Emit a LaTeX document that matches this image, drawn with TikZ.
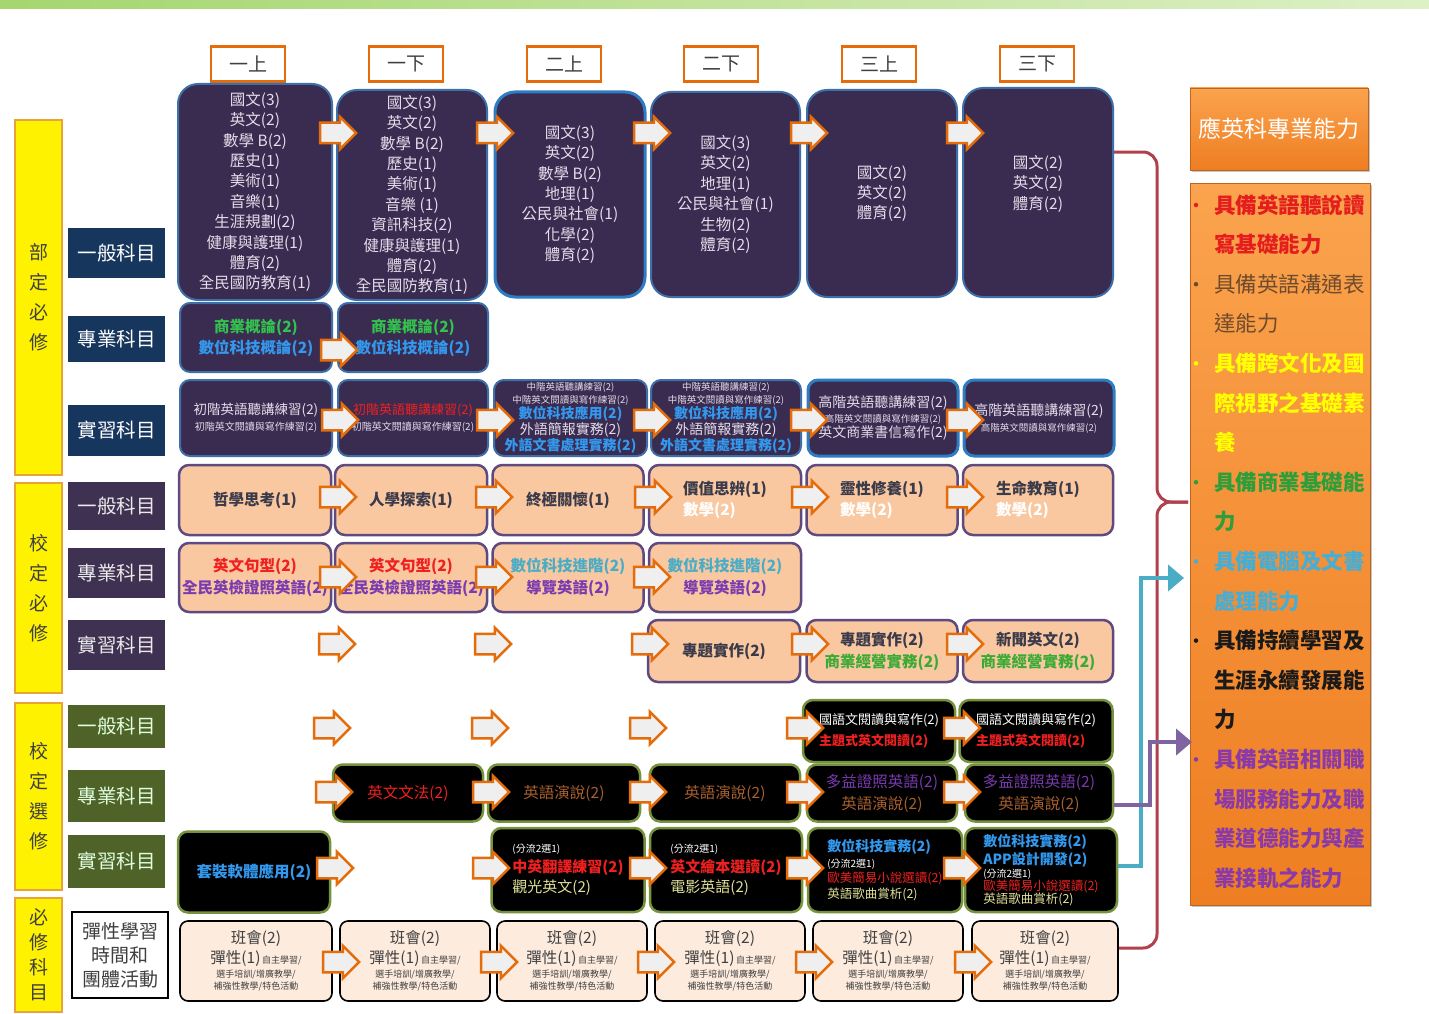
\documentclass[tikz,border=0pt]{standalone}
\usepackage{fontspec}
\setmainfont{Noto Sans CJK TC}
\usetikzlibrary{shapes.arrows,arrows.meta,shadows,calc}
\definecolor{cOr}{HTML}{E46C0A}
\definecolor{cArr}{HTML}{EFEFEF}
\definecolor{cPur}{HTML}{3A2B50}
\definecolor{cBlu}{HTML}{3D6FA8}
\definecolor{cBlu2}{HTML}{2E7DC4}
\definecolor{cLt}{HTML}{E2DDEA}
\definecolor{cPeach}{HTML}{F9C8A0}
\definecolor{cPeB}{HTML}{5E4A80}
\definecolor{cDk}{HTML}{3A3A4A}
\definecolor{cGrn}{HTML}{76923C}
\definecolor{cLpe}{HTML}{FDEBDD}
\definecolor{cGray}{HTML}{404040}
\definecolor{cNavy}{HTML}{17365D}
\definecolor{cPG}{HTML}{3F3151}
\definecolor{cOl}{HTML}{4F6228}
\definecolor{cGo}{HTML}{E8A33A}
\definecolor{tGreen}{HTML}{33C24D}
\definecolor{tBlue}{HTML}{3399EE}
\definecolor{tRed}{HTML}{F02020}
\definecolor{tPurp}{HTML}{7A3BB0}
\definecolor{tCyan}{HTML}{4BACC6}
\definecolor{tBrown}{HTML}{A8602E}
\definecolor{tYel}{HTML}{E0E09A}
\definecolor{tGr2}{HTML}{3AAA35}
\definecolor{oTop}{HTML}{FBA34E}
\definecolor{oBot}{HTML}{EE7E22}
\definecolor{lRed}{HTML}{E41E1E}
\definecolor{lBrown}{HTML}{6E4B2C}
\definecolor{lYel}{HTML}{FFFF00}
\definecolor{lGreen}{HTML}{2E9E3A}
\definecolor{lBlue}{HTML}{45AED6}
\definecolor{lBlack}{HTML}{1A1A1A}
\definecolor{lPurp}{HTML}{8A3AA8}
\definecolor{cBrace}{HTML}{B0404C}
\definecolor{cArrP}{HTML}{8064A2}
\definecolor{cTopL}{HTML}{A5D66F}
\definecolor{cTopR}{HTML}{DDF0C6}
\tikzset{
 hdr/.style={draw=cOr, line width=2.5pt, fill=white, minimum width=74pt, minimum height=35pt, font=\fontsize{19}{22}\selectfont, text=cGray},
 pb/.style={fill=cPur, draw=cBlu, line width=2pt, rounded corners=20pt, text=cLt, align=center, font=\fontsize{15.5}{20.4}\selectfont},
 pbs/.style={fill=cPur, draw=cBlu, line width=2pt, rounded corners=10pt, text=cLt, align=center},
 pe/.style={fill=cPeach, draw=cPeB, line width=2.5pt, rounded corners=10pt, align=center, text=cDk},
 bk/.style={fill=black, draw=cGrn, line width=2.5pt, rounded corners=10pt, align=center, text=white},
 lt/.style={fill=cLpe, draw=black, line width=1.6pt, rounded corners=8pt, align=center, text=cGray, font=\fontsize{9}{12}\selectfont},
 arr/.style={single arrow, draw=cOr, fill=cArr, line width=2.5pt, minimum height=36pt, inner xsep=0pt, inner ysep=9pt, single arrow head extend=6pt},
 grp/.style={fill=yellow, draw=cGo, line width=2pt, minimum width=47pt, align=center, text=cGray, font=\fontsize{19}{30}\selectfont},
 lab/.style={minimum width=97pt, text=white, font=\fontsize{19.5}{22}\selectfont},
 li/.style={anchor=west, font=\fontsize{21.5}{24}\selectfont\bfseries},
 bul/.style={circle, minimum size=4.5pt, inner sep=0pt},
}
\begin{document}
\begin{tikzpicture}[x=1pt,y=-1pt, every node/.append style={inner sep=1pt}]
\useasboundingbox (0,0) rectangle (1429,1014);
\fill[white] (0,0) rectangle (1429,1014);
\shade[left color=cTopL, right color=cTopR] (0,0) rectangle (1429,9);

% headers
\node[hdr] (h1) at (248,64) {一上};
\node[hdr] (h2) at (406,64) {一下};
\node[hdr] (h3) at (564,64) {二上};
\node[hdr] (h4) at (721,64) {二下};
\node[hdr] (h5) at (879,64) {三上};
\node[hdr] (h6) at (1037,64) {三下};

% group labels
\node[grp, minimum height=355pt] (g1) at (38.5,297.5) {部\\定\\必\\修};
\node[grp, minimum height=210pt] (g2) at (38.5,588) {校\\定\\必\\修};
\node[grp, minimum height=187pt] (g3) at (38.5,796.5) {校\\定\\選\\修};
\node[grp, minimum height=114pt, font=\fontsize{19}{25}\selectfont] (g4) at (38.5,955) {必\\修\\科\\目};

% row labels
\node[lab, fill=cNavy, minimum height=50pt] (l1) at (116.5,253) {一般科目};
\node[lab, fill=cNavy, minimum height=46pt] (l2) at (116.5,339) {專業科目};
\node[lab, fill=cNavy, minimum height=51pt] (l3) at (116.5,430.5) {實習科目};
\node[lab, fill=cPG, minimum height=48pt, text=white!92!black] (l4) at (116.5,506) {一般科目};
\node[lab, fill=cPG, minimum height=50pt, text=white!92!black] (l5) at (116.5,573) {專業科目};
\node[lab, fill=cPG, minimum height=50pt, text=white!92!black] (l6) at (116.5,645) {實習科目};
\node[lab, fill=cOl, minimum height=43pt, text=white!88!green] (l7) at (116.5,726.5) {一般科目};
\node[lab, fill=cOl, minimum height=52pt, text=white!88!green] (l8) at (116.5,796) {專業科目};
\node[lab, fill=cOl, minimum height=53pt, text=white!88!green] (l9) at (116.5,861.5) {實習科目};
\node[draw=black, line width=1.6pt, fill=white, minimum width=96pt, minimum height=86pt, align=center, text=cGray, font=\fontsize{19}{24}\selectfont] (l10) at (120,955) {彈性學習\\時間和\\團體活動};

% row 1
\node[pb, minimum width=154pt, minimum height=216pt] (r1c1) at (255,192) {國文(3)\\英文(2)\\數學 B(2)\\歷史(1)\\美術(1)\\音樂(1)\\生涯規劃(2)\\健康與護理(1)\\體育(2)\\全民國防教育(1)};
\node[pb, minimum width=150pt, minimum height=210pt] (r1c2) at (412,195) {國文(3)\\英文(2)\\數學 B(2)\\歷史(1)\\美術(1)\\音樂 (1)\\資訊科技(2)\\健康與護理(1)\\體育(2)\\全民國防教育(1)};
\node[pb, draw=cBlu2, line width=3pt, minimum width=150pt, minimum height=205pt] (r1c3) at (570,194.5) {國文(3)\\英文(2)\\數學 B(2)\\地理(1)\\公民與社會(1)\\化學(2)\\體育(2)};
\node[pb, minimum width=149pt, minimum height=205pt] (r1c4) at (725.5,194.5) {國文(3)\\英文(2)\\地理(1)\\公民與社會(1)\\生物(2)\\體育(2)};
\node[pb, minimum width=150pt, minimum height=207pt] (r1c5) at (882,193.5) {國文(2)\\英文(2)\\體育(2)};
\node[pb, minimum width=150pt, minimum height=209pt] (r1c6) at (1038,192.5) {國文(2)\\英文(2)\\體育(2)\\[0pt]};

% row 2
\node[pbs, minimum width=152pt, minimum height=69pt, font=\fontsize{15.5}{21}\selectfont\bfseries] (r2c1) at (256,337.5) {\textcolor{tGreen}{商業概論(2)}\\\textcolor{tBlue}{數位科技概論(2)}};
\node[pbs, minimum width=150pt, minimum height=69pt, font=\fontsize{15.5}{21}\selectfont\bfseries] (r2c2) at (413,337.5) {\textcolor{tGreen}{商業概論(2)}\\\textcolor{tBlue}{數位科技概論(2)}};

% row 3
\node[pbs, minimum width=152pt, minimum height=76pt, font=\fontsize{10}{16}\selectfont] (r3c1) at (256,418) {{\fontsize{13.5}{16}\selectfont 初階英語聽講練習(2)}\\初階英文閱讀與寫作練習(2)};
\node[pbs, minimum width=150pt, minimum height=76pt, font=\fontsize{10}{16}\selectfont] (r3c2) at (413,418) {{\fontsize{13}{16}\selectfont\textcolor{tRed}{初階英語聽講練習(2)}}\\初階英文閱讀與寫作練習(2)};
\node[pbs, minimum width=153pt, minimum height=76pt, font=\fontsize{9.5}{12.5}\selectfont] (r3c3) at (570.5,418) {中階英語聽講練習(2)\\中階英文閱讀與寫作練習(2)\\{\fontsize{14}{16}\selectfont\bfseries\textcolor{tBlue}{數位科技應用(2)}}\\{\fontsize{14}{16}\selectfont 外語簡報實務(2)}\\{\fontsize{14}{16}\selectfont\bfseries\textcolor{tBlue}{外語文書處理實務(2)}}};
\node[pbs, minimum width=150pt, minimum height=76pt, font=\fontsize{9.5}{12.5}\selectfont] (r3c4) at (726,418) {中階英語聽講練習(2)\\中階英文閱讀與寫作練習(2)\\{\fontsize{14}{16}\selectfont\bfseries\textcolor{tBlue}{數位科技應用(2)}}\\{\fontsize{14}{16}\selectfont 外語簡報實務(2)}\\{\fontsize{14}{16}\selectfont\bfseries\textcolor{tBlue}{外語文書處理實務(2)}}};
\node[pbs, draw=cBlu2, line width=3pt, minimum width=150pt, minimum height=76pt, font=\fontsize{9.5}{15}\selectfont] (r3c5) at (883,418) {{\fontsize{14}{16}\selectfont 高階英語聽講練習(2)}\\高階英文閱讀與寫作練習(2)\\{\fontsize{14}{16}\selectfont 英文商業書信寫作(2)}};
\node[pbs, draw=cBlu2, line width=3pt, minimum width=150pt, minimum height=76pt, font=\fontsize{9.5}{16}\selectfont] (r3c6) at (1039,418) {{\fontsize{14}{16}\selectfont 高階英語聽講練習(2)}\\高階英文閱讀與寫作練習(2)};

% row 4
\node[pe, minimum width=152pt, minimum height=70pt, font=\fontsize{15.5}{21}\selectfont\bfseries] (r4c1) at (255,500) {哲學思考(1)};
\node[pe, minimum width=152pt, minimum height=70pt, font=\fontsize{15.5}{21}\selectfont\bfseries] (r4c2) at (411,500) {人學探索(1)};
\node[pe, minimum width=151pt, minimum height=70pt, font=\fontsize{15.5}{21}\selectfont\bfseries] (r4c3) at (568,500) {終極關懷(1)};
\node[pe, align=left, minimum width=152pt, minimum height=70pt, font=\fontsize{15.5}{21}\selectfont\bfseries] (r4c4) at (725,500) {價值思辨(1)\\\textcolor{white}{數學(2)}};
\node[pe, align=left, minimum width=151pt, minimum height=70pt, font=\fontsize{15.5}{21}\selectfont\bfseries] (r4c5) at (882,500) {靈性修養(1)\\\textcolor{white}{數學(2)}};
\node[pe, align=left, minimum width=150pt, minimum height=70pt, font=\fontsize{15.5}{21}\selectfont\bfseries] (r4c6) at (1038,500) {生命教育(1)\\\textcolor{white}{數學(2)}};

% row 5
\node[pe, minimum width=152pt, minimum height=69pt, font=\fontsize{15.5}{22}\selectfont\bfseries] (r5c1) at (255,577.5) {\textcolor{tRed}{英文句型(2)}\\\textcolor{tPurp}{全民英檢證照英語(2)}};
\node[pe, minimum width=152pt, minimum height=69pt, font=\fontsize{15.5}{22}\selectfont\bfseries] (r5c2) at (411,577.5) {\textcolor{tRed}{英文句型(2)}\\\textcolor{tPurp}{全民英檢證照英語(2)}};
\node[pe, minimum width=151pt, minimum height=69pt, font=\fontsize{15.5}{22}\selectfont\bfseries] (r5c3) at (568,577.5) {\textcolor{tCyan}{數位科技進階(2)}\\\textcolor{tPurp}{導覽英語(2)}};
\node[pe, minimum width=152pt, minimum height=69pt, font=\fontsize{15.5}{22}\selectfont\bfseries] (r5c4) at (725,577.5) {\textcolor{tCyan}{數位科技進階(2)}\\\textcolor{tPurp}{導覽英語(2)}};

% row 6
\node[pe, minimum width=152pt, minimum height=62pt, font=\fontsize{15.5}{22}\selectfont\bfseries] (r6c4) at (724,651) {專題實作(2)};
\node[pe, minimum width=151pt, minimum height=62pt, font=\fontsize{15.5}{22}\selectfont\bfseries] (r6c5) at (882,651) {專題實作(2)\\\textcolor{tGr2}{商業經營實務(2)}};
\node[pe, minimum width=150pt, minimum height=62pt, font=\fontsize{15.5}{22}\selectfont\bfseries] (r6c6) at (1038,651) {新聞英文(2)\\\textcolor{tGr2}{商業經營實務(2)}};

% row 7
\node[bk, align=left, minimum width=152pt, minimum height=62pt, font=\fontsize{13}{21}\selectfont] (r7c5) at (879,731) {國語文閱讀與寫作(2)\\{\bfseries\textcolor{tRed}{主題式英文閱讀(2)}}};
\node[bk, align=left, minimum width=153pt, minimum height=62pt, font=\fontsize{13}{21}\selectfont] (r7c6) at (1036,731) {國語文閱讀與寫作(2)\\{\bfseries\textcolor{tRed}{主題式英文閱讀(2)}}};

% row 8
\node[bk, minimum width=150pt, minimum height=57pt, font=\fontsize{15.5}{22}\selectfont] (r8c2) at (408,793) {\textcolor{tRed}{英文文法(2)}};
\node[bk, minimum width=152pt, minimum height=57pt, font=\fontsize{15.5}{22}\selectfont] (r8c3) at (564,793) {\textcolor{tBrown}{英語演說(2)}};
\node[bk, minimum width=150pt, minimum height=57pt, font=\fontsize{15.5}{22}\selectfont] (r8c4) at (725,793) {\textcolor{tBrown}{英語演說(2)}};
\node[bk, minimum width=150pt, minimum height=57pt, font=\fontsize{15.5}{22}\selectfont] (r8c5) at (882,793) {\textcolor{tPurp}{多益證照英語(2)}\\\textcolor{tBrown}{英語演說(2)}};
\node[bk, minimum width=148pt, minimum height=57pt, font=\fontsize{15.5}{22}\selectfont] (r8c6) at (1039,793) {\textcolor{tPurp}{多益證照英語(2)}\\\textcolor{tBrown}{英語演說(2)}};

% row 9
\node[bk, minimum width=152pt, minimum height=81pt, font=\fontsize{15.5}{22}\selectfont\bfseries] (r9c1) at (254,872) {\textcolor{tBlue}{套裝軟體應用(2)}};
\node[bk, align=left, minimum width=153pt, minimum height=84pt, font=\fontsize{10}{20}\selectfont] (r9c3) at (568,870) {(分流2選1)\\{\fontsize{15}{17}\selectfont\bfseries\textcolor{tRed}{中英翻譯練習(2)}}\\{\fontsize{15}{17}\selectfont\textcolor{tYel}{觀光英文(2)}}};
\node[bk, align=left, minimum width=152pt, minimum height=84pt, font=\fontsize{10}{20}\selectfont] (r9c4) at (726,870) {(分流2選1)\\{\fontsize{15}{17}\selectfont\bfseries\textcolor{tRed}{英文繪本選讀(2)}}\\{\fontsize{15}{17}\selectfont\textcolor{tYel}{電影英語(2)}}};
\node[bk, align=left, minimum width=154pt, minimum height=84pt, font=\fontsize{10}{15.5}\selectfont] (r9c5) at (885,870) {{\fontsize{14}{16}\selectfont\bfseries\textcolor{tBlue}{數位科技實務(2)}}\\(分流2選1)\\{\fontsize{12.5}{15}\selectfont\textcolor{tRed}{歐美簡易小說選讀(2)}}\\{\fontsize{12.5}{15}\selectfont\textcolor{tYel}{英語歌曲賞析(2)}}};
\node[bk, align=left, minimum width=152pt, minimum height=84pt, font=\fontsize{10}{13}\selectfont] (r9c6) at (1041,870) {{\fontsize{14}{16}\selectfont\bfseries\textcolor{tBlue}{數位科技實務(2)}}\\[2pt]{\fontsize{14}{16}\selectfont\bfseries\textcolor{tBlue}{APP設計開發(2)}}\\(分流2選1)\\{\fontsize{12.5}{15}\selectfont\textcolor{tRed}{歐美簡易小說選讀(2)}}\\{\fontsize{12.5}{15}\selectfont\textcolor{tYel}{英語歌曲賞析(2)}}};

% row 10
\foreach \x/\w [count=\i] in {256/152,415/150,572/150,730/150,888/150,1045/146}{
 \node[lt, minimum width=\w pt, minimum height=80pt] (r10c\i) at (\x,961) {{\fontsize{15.5}{17}\selectfont 班會(2)}\\[3pt]{\fontsize{15.5}{17}\selectfont 彈性(1)}\,自主學習/\\[2pt]選手培訓/增廣教學/\\補強性教學/特色活動};
}

% arrows
\foreach \x [count=\i] in {333,490,647,804,960} \node[arr] (a1-\i) at (\x,133) {};
\node[arr] (a2-1) at (334,350) {};
\foreach \x [count=\i] in {335,490,647,804,960} \node[arr] (a3-\i) at (\x,420) {};
\foreach \x [count=\i] in {333,489,648,805,960} \node[arr] (a4-\i) at (\x,497) {};
\foreach \x [count=\i] in {333,489,647} \node[arr] (a5-\i) at (\x,577) {};
\foreach \x [count=\i] in {332,488,645,805,960} \node[arr] (a6-\i) at (\x,644) {};
\foreach \x [count=\i] in {327,485,643,800,957} \node[arr] (a7-\i) at (\x,728) {};
\foreach \x [count=\i] in {329,486,643,800,957} \node[arr] (a8-\i) at (\x,792) {};
\foreach \x [count=\i] in {330,486,643,800,957} \node[arr] (a9-\i) at (\x,868) {};
\foreach \x [count=\i] in {336,494,651,809,968} \node[arr] (a10-\i) at (\x,962) {};

% right panel
\node[minimum width=178pt, minimum height=82pt, top color=oTop, bottom color=oBot, draw=oBot!80!black, line width=0.6pt, drop shadow={shadow xshift=2pt, shadow yshift=-2pt, opacity=0.45}, text=white, font=\fontsize{23}{26}\selectfont] (t1) at (1279,129) {應英科專業能力};
\node[minimum width=180pt, minimum height=722pt, top color=oTop, bottom color=oBot, draw=oBot!80!black, line width=0.6pt, drop shadow={shadow xshift=2pt, shadow yshift=-2pt, opacity=0.45}] (t2) at (1280,544) {};

\node[li, text=lRed] (i1a) at (1213,205) {具備英語聽說讀};
\node[li, text=lRed] (i1b) at (1213,244.6) {寫基礎能力};
\node[li, text=lBrown, font=\fontsize{21.5}{24}\selectfont] (i2a) at (1213,284.2) {具備英語溝通表};
\node[li, text=lBrown, font=\fontsize{21.5}{24}\selectfont] (i2b) at (1213,323.8) {達能力};
\node[li, text=lYel] (i3a) at (1213,363.4) {具備跨文化及國};
\node[li, text=lYel] (i3b) at (1213,403) {際視野之基礎素};
\node[li, text=lYel] (i3c) at (1213,442.6) {養};
\node[li, text=lGreen] (i4a) at (1213,482.2) {具備商業基礎能};
\node[li, text=lGreen] (i4b) at (1213,521.8) {力};
\node[li, text=lBlue] (i5a) at (1213,561.4) {具備電腦及文書};
\node[li, text=lBlue] (i5b) at (1213,601) {處理能力};
\node[li, text=lBlack] (i6a) at (1213,640.6) {具備持續學習及};
\node[li, text=lBlack] (i6b) at (1213,680.2) {生涯永續發展能};
\node[li, text=lBlack] (i6c) at (1213,719.8) {力};
\node[li, text=lPurp] (i7a) at (1213,759.4) {具備英語相關職};
\node[li, text=lPurp] (i7b) at (1213,799) {場服務能力及職};
\node[li, text=lPurp] (i7c) at (1213,838.6) {業道德能力與產};
\node[li, text=lPurp] (i7d) at (1213,878.2) {業接軌之能力};
\node[bul, fill=lRed] (b1) at (1196,205) {};
\node[bul, fill=lBrown] (b2) at (1196,284.2) {};
\node[bul, fill=lYel] (b3) at (1196,363.4) {};
\node[bul, fill=lGreen] (b4) at (1196,482.2) {};
\node[bul, fill=lBlue] (b5) at (1196,561.4) {};
\node[bul, fill=lBlack] (b6) at (1196,640.6) {};
\node[bul, fill=lPurp] (b7) at (1196,759.4) {};

% connectors
\coordinate (btip) at (1188,502);
\draw[cBrace, line width=3pt, rounded corners=14pt] (r1c6.east |- 0,152) -- (1157,152) -- (1157,502) -- (btip);
\draw[cBrace, line width=3pt, rounded corners=14pt] (r10c6.east |- 0,948) -- (1157,948) -- (1157,502) -- (btip);
\coordinate (ctip) at (1184,578);
\draw[tCyan, line width=4pt, -{Triangle[length=16pt,width=26pt]}] (r9c6.east |- 0,866) -- (1141,866) -- (1141,578) -- (ctip);
\coordinate (ptip) at (1192,742);
\draw[cArrP, line width=4pt, -{Triangle[length=16pt,width=26pt]}] (r8c6.east |- 0,805) -- (1150,805) -- (1150,742) -- (ptip);
\end{tikzpicture}
\end{document}
